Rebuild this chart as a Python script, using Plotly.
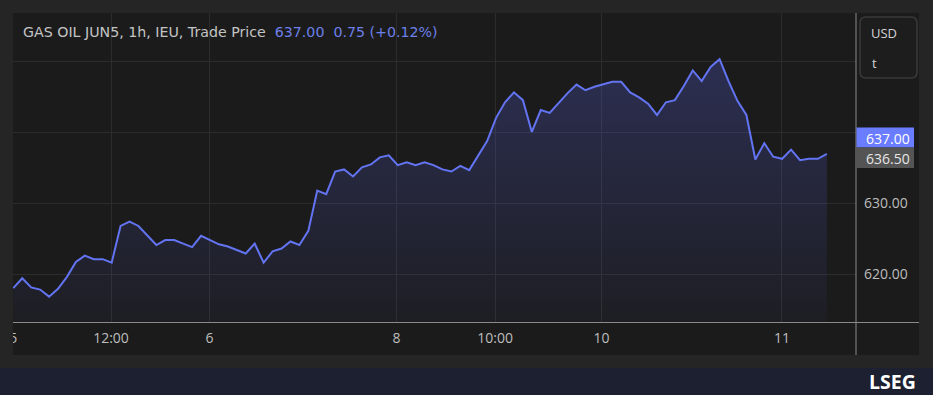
import plotly.graph_objects as go

# ---------------- data ----------------
prices = [
    618.0, 619.4, 618.1, 617.8, 616.8, 617.9, 619.6, 621.7, 622.6, 622.1,
    622.1, 621.6, 626.8, 627.4, 626.8, 625.5, 624.1, 624.8, 624.8, 624.3,
    623.8, 625.4, 624.8, 624.2, 623.9, 623.4, 622.9, 624.3, 621.6, 623.2,
    623.6, 624.6, 624.1,
    626.1, 631.8, 631.3, 634.5, 634.8, 633.8, 635.1, 635.5, 636.5, 636.8,
    635.4, 635.8, 635.4, 635.8, 635.4, 634.8, 634.5, 635.3, 634.7, 636.7,
    638.8, 642.1, 644.3, 645.7, 644.6, 640.1, 643.2, 642.8, 644.2, 645.6,
    646.8,
    646.0, 646.5, 646.8, 647.2, 647.2, 645.7, 645.0, 644.1, 642.5, 644.3,
    644.6, 646.6, 648.8, 647.3, 649.3, 650.4, 647.3, 644.5, 642.5, 636.2,
    638.5, 636.6, 636.3, 637.6, 636.1, 636.3, 636.3, 637.0,
]
x_tick_pos = [0, 10.93, 21.95, 42.86, 53.9, 65.8, 85.98]
x_tick_text = ["5", "12:00", "6", "8", "10:00", "10", "11"]
y_tick_vals = [620, 630, 640, 650]
y_tick_text = ["620.00", "630.00", "", ""]
title_text = "GAS OIL JUN5, 1h, IEU, Trade Price"
last_price = "637.00"
change_text = "0.75 (+0.12%)"
bid_price = "636.50"
currency = "USD"
unit = "t"

# ---------------- geometry helpers (pixels -> paper) ----------------
W, H = 933, 395
L, R, T, B = 13, 856, 13, 322


def px(x):
    return (x - L) / (R - L)


def py(y):
    return (B - y) / (B - T)


FONT = "Open Sans, sans-serif"
TITLE_FONT = "DejaVu Sans, sans-serif"
LINE_BLUE = "#6374f3"
TEXT_GRAY = "#c4c4c4"
GRID = "#2c2c2c"

fig = go.Figure()
fig.add_trace(go.Scatter(
    x=list(range(len(prices))), y=prices, mode="lines",
    line=dict(color=LINE_BLUE, width=2),
    fill="tozeroy",
    fillgradient=dict(type="vertical", start=613, stop=651,
                      colorscale=[[0, "rgba(88,98,225,0.04)"], [1, "rgba(88,98,225,0.28)"]]),
    hoverinfo="skip", showlegend=False,
))

shapes = [
    # chart panel
    dict(type="rect", xref="paper", yref="paper", x0=px(13), x1=px(919), y0=py(355), y1=py(13),
         fillcolor="#1b1b1b", line=dict(width=0), layer="below"),
    # bottom brand bar
    dict(type="rect", xref="paper", yref="paper", x0=px(0), x1=px(933), y0=py(395), y1=py(368),
         fillcolor="#1c2030", line=dict(width=0), layer="below"),
    # left strip covering clipped tick label
    dict(type="rect", xref="paper", yref="paper", x0=px(0), x1=px(13), y0=py(360), y1=py(322.5),
         fillcolor="#252525", line=dict(width=0), layer="above"),
    # axis lines
    dict(type="line", xref="paper", yref="paper", x0=px(13), x1=px(919), y0=py(322.5), y1=py(322.5),
         line=dict(color="#8a8a8a", width=1), layer="above"),
    dict(type="line", xref="paper", yref="paper", x0=px(856), x1=px(856), y0=py(13), y1=py(355),
         line=dict(color="#8a8a8a", width=1), layer="above"),
    # price badges
    dict(type="rect", xref="paper", yref="paper", x0=px(856.5), x1=px(914), y0=py(147.5), y1=py(127.5),
         fillcolor="#6a7cff", line=dict(width=0), layer="above"),
    dict(type="rect", xref="paper", yref="paper", x0=px(856.5), x1=px(914), y0=py(168), y1=py(147.5),
         fillcolor="#545454", line=dict(width=0), layer="above"),
]

# rounded USD/t box
bx0, bx1, by0, by1, r = 860, 917, 17, 78, 6


def P(x, y):
    return f"{px(x):.5f},{py(y):.5f}"


path = (f"M {P(bx0 + r, by0)} L {P(bx1 - r, by0)} Q {P(bx1, by0)} {P(bx1, by0 + r)} "
        f"L {P(bx1, by1 - r)} Q {P(bx1, by1)} {P(bx1 - r, by1)} "
        f"L {P(bx0 + r, by1)} Q {P(bx0, by1)} {P(bx0, by1 - r)} "
        f"L {P(bx0, by0 + r)} Q {P(bx0, by0)} {P(bx0 + r, by0)} Z")
shapes.append(dict(type="path", xref="paper", yref="paper", path=path,
                   fillcolor="#1d1d1d", line=dict(color="#3a3a3a", width=1.5), layer="above"))

NB = "\u00a0"
annotations = [
    dict(xref="paper", yref="paper", x=px(21), y=py(32), xanchor="left", yanchor="middle",
         showarrow=False, font=dict(family=TITLE_FONT, size=14.2, color=TEXT_GRAY),
         text=f"{title_text}{NB}{NB}<span style='color:#6d80ea'>{last_price}{NB}{NB}{change_text}</span>"),
    dict(xref="paper", yref="paper", x=px(864), y=py(138), xanchor="left", yanchor="middle",
         showarrow=False, font=dict(family=FONT, size=14, color="#ffffff"),
         text=last_price),
    dict(xref="paper", yref="paper", x=px(864), y=py(158), xanchor="left", yanchor="middle",
         showarrow=False, font=dict(family=FONT, size=14, color="#e6e6e6"),
         text=bid_price),
    dict(xref="paper", yref="paper", x=px(869), y=py(33), xanchor="left", yanchor="middle",
         showarrow=False, font=dict(family=FONT, size=13, color="#d4d4d4"),
         text=currency),
    dict(xref="paper", yref="paper", x=px(870), y=py(63), xanchor="left", yanchor="middle",
         showarrow=False, font=dict(family=FONT, size=13, color="#d4d4d4"),
         text=unit),
    dict(xref="paper", yref="paper", x=px(867), y=py(381), xanchor="left", yanchor="middle",
         showarrow=False, font=dict(family=FONT, size=19.5, color="#ffffff"),
         text="<b>LSEG</b>"),
]

fig.update_layout(
    width=W, height=H,
    margin=dict(l=L, r=W - R, t=T, b=H - B, autoexpand=False),
    paper_bgcolor="#252525", plot_bgcolor="#1b1b1b",
    shapes=shapes, annotations=annotations,
    xaxis=dict(range=[-0.034, 94.26], tickvals=x_tick_pos, ticktext=x_tick_text,
               showgrid=True, gridcolor=GRID, gridwidth=1, zeroline=False, showline=False,
               ticks="", ticklabelstandoff=6,
               tickfont=dict(family=FONT, size=14, color="#bdbdbd"),
               fixedrange=True),
    yaxis=dict(range=[613.21, 656.93], side="right", tickvals=y_tick_vals, ticktext=y_tick_text,
               showgrid=True, gridcolor=GRID, gridwidth=1, zeroline=False, showline=False,
               ticks="", ticklabelstandoff=7,
               tickfont=dict(family=FONT, size=14, color="#bdbdbd"),
               fixedrange=True),
    showlegend=False,
)

fig.write_html("out.html")
